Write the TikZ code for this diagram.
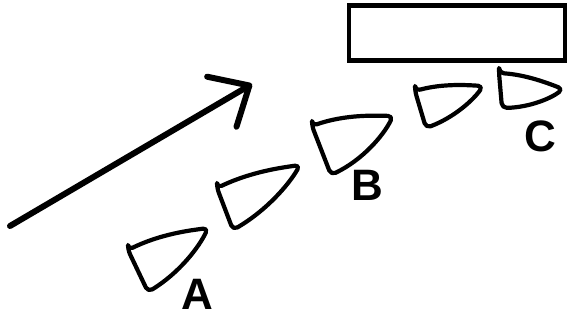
\documentclass[tikz,border=0pt]{standalone}
\usepackage{fontspec}
\setsansfont{Liberation Sans}
\usetikzlibrary{arrows.meta}

\begin{document}
\begin{tikzpicture}[x=1pt, y=-1pt,
  boat/.style={draw=black, line width=4.2pt, rounded corners=5pt, line join=round},
  letter/.style={font=\sffamily\bfseries\fontsize{44}{44}\selectfont, inner sep=0pt},
  sign/.style={draw=black, line width=4.5pt, minimum width=216pt,
    minimum height=55pt, inner sep=0pt},
  wind/.style={line width=6pt, line cap=round,
    -{Straight Barb[length=32pt, width=58pt, round]}}
]
\useasboundingbox (0,0) rectangle (567,320);

%% Board, top right
\node[sign] (board) at (457,33) {};

%% Wind arrow
\coordinate (tail) at (10,226);
\coordinate (head) at (252,84);
\draw[wind] (tail) -- (head);

%% Boats, stern -- bow
\draw[boat] (128,250) -- (148,292) .. controls (179.5,272.7) and (199,247.1) .. (208,228)
  .. controls (191,230.3) and (161,233.8) .. cycle;
\draw[boat] (217,188) -- (233,230) .. controls (266.8,210.2) and (289,184.3) .. (300,165)
  .. controls (282.6,167.5) and (252,171.4) .. cycle;
\draw[boat] (312,126) -- (331,175) .. controls (363.2,159.5) and (383.5,135.2) .. (393,116)
  .. controls (375.9,115.6) and (345.6,114.2) .. cycle;
\draw[boat] (415,91) -- (426,128) .. controls (454.1,117.4) and (473.3,100) .. (483,86)
  .. controls (468.9,85.2) and (443.9,83.2) .. cycle;
\draw[boat] (499,73) -- (502,108) .. controls (530.1,107.3) and (551.3,98.1) .. (563,89)
  .. controls (550.1,84.1) and (527.3,74.9) .. cycle;

%% Labels
\node[letter] (labA) at (197,294) {A};
\node[letter] (labB) at (367,185) {B};
\node[letter] (labC) at (540,136) {C};

\end{tikzpicture}
\end{document}
